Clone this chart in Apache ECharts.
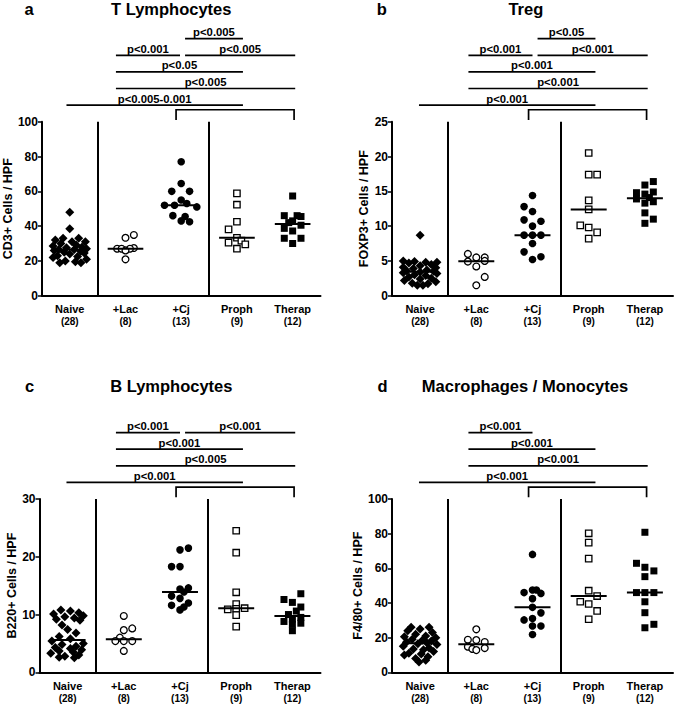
<!DOCTYPE html>
<html><head><meta charset="utf-8">
<script src="https://cdn.jsdelivr.net/npm/echarts@6/dist/echarts.min.js"></script>
<style>html,body{margin:0;padding:0;background:#fff}#c{width:675px;height:706px}</style>
</head><body><div id="c"></div>
<script>
// ---------- data ----------
const categories = ['Naive', '+Lac', '+Cj', 'Proph', 'Therap'];
const groupN = [28, 8, 13, 9, 12];
const panelLetters = ['a', 'b', 'c', 'd'];
const panelTitles = ['T Lymphocytes', 'Treg', 'B Lymphocytes', 'Macrophages / Monocytes'];
const yNames = ['CD3+ Cells / HPF', 'FOXP3+ Cells / HPF', 'B220+ Cells / HPF', 'F4/80+ Cells / HPF'];
const yMax = [100, 25, 30, 100];
const yStep = [20, 5, 10, 20];
const separatorsAfter = [1, 3]; // vertical dividers after Naive and after +Cj

// panel a: T lymphocytes (CD3+)
const tNaive = [48, 38.5, 33, 33, 32, 31, 31, 30, 29, 28.5, 28, 27.5, 27, 26.5, 26.5, 26, 25.5, 25, 24.5, 24, 23, 22.5, 22, 21, 20, 19.5, 19, 19];
const tLac = [34.9, 33.3, 27.4, 27, 27, 27, 26, 20.9];
const tCj = [77, 64.5, 60, 60, 55, 53, 52, 52, 51, 46, 45.5, 43, 42.5];
const tProph = [58.8, 52.3, 42.5, 38.1, 33.3, 31.6, 30.5, 29.5, 27];
const tTherap = [57.3, 46, 46, 45.5, 43, 42, 40.5, 38.7, 37.2, 33, 33, 30];
// panel b: Treg (FOXP3+)
const gNaive = [8.7, 5, 4.9, 4.8, 4.8, 4.7, 4.5, 4.3, 4.1, 4.0, 3.9, 3.7, 3.6, 3.5, 3.4, 3.3, 3.2, 3.0, 2.9, 2.7, 2.5, 2.4, 2.2, 2.0, 1.8, 1.7, 1.5, 1.5];
const gLac = [6.0, 5.5, 5.5, 5.0, 4.9, 4.2, 2.7, 1.5];
const gCj = [14.4, 12.8, 12.1, 10.9, 10.7, 10.0, 8.7, 8.7, 8.7, 7.5, 6.3, 5.6, 5.2];
const gProph = [20.5, 17.4, 17.4, 13.7, 12.4, 10.1, 9.8, 9.1, 8.2];
const gTherap = [16.4, 15.9, 14.9, 14.8, 14.6, 14.1, 13.9, 13.5, 13.3, 11.9, 11.0, 10.4];
// panel c: B lymphocytes (B220+)
const bNaive = [10.8, 10.6, 10.3, 10.1, 9.8, 9.6, 9.4, 9.2, 9.0, 8.2, 7.4, 6.8, 6.2, 5.8, 5.4, 5.0, 4.8, 4.5, 4.3, 4.1, 3.9, 3.7, 3.5, 3.3, 3.0, 2.8, 2.6, 2.5];
const bLac = [9.75, 7.6, 7.3, 6.0, 5.4, 5.4, 5.4, 3.7];
const bCj = [21.5, 21.2, 18.3, 18.3, 14.6, 14.4, 13.9, 13.2, 12.8, 12.0, 11.6, 11.3, 10.8];
const bProph = [24.5, 20.7, 13.85, 11.8, 11.1, 11.0, 10.9, 9.9, 7.9];
const bTherap = [13.6, 12.6, 12.1, 11.3, 10.6, 10.0, 9.5, 9.2, 8.8, 8.5, 8.3, 7.2];
// panel d: macrophages / monocytes (F4/80+)
const mNaive = [26, 26, 25, 24, 23, 22, 21, 20.5, 20, 19, 18.5, 18, 17.5, 17, 16.5, 16, 15, 14, 13.5, 13, 12, 11, 10.5, 10, 9, 8, 7, 6];
const mLac = [24.8, 18.8, 18.6, 17.5, 14.8, 14.0, 13.5, 12.8];
const mCj = [68, 47.5, 47.5, 46, 45.5, 42.5, 37.5, 34.3, 31, 30.2, 26.7, 26.7, 21.8];
const mProph = [80.2, 74.8, 65.6, 47.1, 44, 40.7, 39.4, 35.4, 30.6];
const mTherap = [80.8, 62.9, 60.6, 58.5, 55.2, 46, 46, 46, 40.7, 34.4, 27.7, 25.7];

// horizontal spread of the dots inside each column (in category units)
const jNaiveA = [0, 0, -0.12, 0.16, -0.26, 0.04, 0.28, -0.16, 0.12, -0.3, 0.22, -0.06, 0.3, -0.2, 0.08, -0.28, 0.2, -0.1, 0.26, 0, -0.22, 0.14, -0.3, 0.3, -0.08, 0.1, -0.18, 0.2];
const jNaiveB = [0, -0.3, -0.1, 0.1, 0.3, -0.2, 0.2, 0, -0.3, 0.28, -0.12, 0.12, -0.24, 0.24, 0, -0.3, 0.3, -0.1, 0.1, -0.2, 0.2, 0, -0.28, 0.28, -0.14, 0.14, -0.05, 0.05];
const jNaiveC = [-0.12, 0.05, 0.2, -0.25, 0.28, -0.05, 0.12, -0.2, 0.22, -0.1, 0, 0.15, -0.15, 0.05, -0.28, 0.28, -0.1, 0.15, -0.22, 0.05, 0.25, -0.15, 0.1, -0.3, 0.2, -0.05, -0.15, 0.12];
const jNaiveD = [-0.16, 0.16, 0, -0.22, 0.22, -0.08, 0.1, -0.28, 0.28, -0.14, 0.04, 0.2, -0.24, 0.12, -0.04, 0.3, -0.3, 0.16, -0.12, 0.06, 0.24, -0.2, 0.02, -0.28, 0.14, -0.08, 0.1, -0.02];
const jTLac = [0.15, 0, 0.15, -0.15, -0.07, 0.08, 0, 0];
const jTCj = [0, 0, -0.17, 0.15, 0, 0.1, -0.3, -0.12, 0.28, -0.15, 0.07, 0, 0.15];
const jTProph = [0, 0, 0, -0.15, 0, 0.08, -0.15, 0.15, 0];
const jTTherap = [0, -0.15, 0.08, 0.15, 0, -0.07, 0.15, -0.15, 0, -0.15, 0.15, 0];
const jGLac = [-0.15, 0, 0.15, 0.15, -0.15, 0, 0.15, 0];
const jGCj = [0, -0.15, 0, -0.15, 0.15, 0, -0.15, 0, 0.15, 0, -0.15, 0.15, 0];
const jGProph = [0, 0, 0.15, 0, 0, -0.15, 0, 0.15, 0];
const jGTherap = [0.15, 0, 0.15, -0.15, 0, 0.08, -0.15, 0.15, 0, 0, 0.15, 0];
const jBLac = [0, 0.15, 0, -0.07, -0.15, 0, 0.15, 0];
const jBCj = [0.15, 0, -0.15, 0, 0.15, 0, 0.07, -0.15, 0, 0.15, -0.15, 0.07, 0];
const jBProph = [0, 0, 0, 0, 0.15, 0, -0.15, 0, 0];
const jBTherap = [0.15, -0.15, 0, 0.15, 0.07, -0.07, 0.15, 0, -0.15, 0.15, 0, 0];
const jMLac = [0, -0.15, 0, 0.15, -0.15, 0.15, -0.07, 0];
const jMCj = [0, 0, 0.07, -0.15, 0.15, 0, 0, 0.15, 0, -0.15, 0, 0.15, 0];
const jMProph = [0, 0, 0, 0, 0.15, -0.15, 0, 0.15, 0];
const jMTherap = [0, -0.15, 0, 0.16, 0, -0.15, 0, 0.16, 0, 0, 0.16, 0];

// significance comparisons: [from group, to group, label, tier]
const sigA = [[3, 4, 'p<0.005', 5], [2, 3, 'p<0.001', 4], [3, 5, 'p<0.005', 4], [2, 4, 'p<0.05', 3], [2, 5, 'p<0.005', 2], [1, 4, 'p<0.005-0.001', 1]];
const sigB = [[3, 4, 'p<0.05', 5], [2, 3, 'p<0.001', 4], [3, 5, 'p<0.001', 4], [2, 4, 'p<0.001', 3], [2, 5, 'p<0.001', 2], [1, 4, 'p<0.001', 1]];
const sigC = [[2, 3, 'p<0.001', 4], [3, 5, 'p<0.001', 4], [2, 4, 'p<0.001', 3], [2, 5, 'p<0.005', 2], [1, 4, 'p<0.001', 1]];
const sigD = [[2, 3, 'p<0.001', 4], [2, 4, 'p<0.001', 3], [2, 5, 'p<0.001', 2], [1, 4, 'p<0.001', 1]];
const bracketGroups = [3, 5]; // +Cj ... Therap bracket

// ---------- layout / style ----------
const FONT = '"Liberation Sans", Arial, Helvetica, sans-serif';
const panels = [
  { vals: [tNaive, tLac, tCj, tProph, tTherap], jit: [jNaiveA, jTLac, jTCj, jTProph, jTTherap], sig: sigA },
  { vals: [gNaive, gLac, gCj, gProph, gTherap], jit: [jNaiveB, jGLac, jGCj, jGProph, jGTherap], sig: sigB },
  { vals: [bNaive, bLac, bCj, bProph, bTherap], jit: [jNaiveC, jBLac, jBCj, jBProph, jBTherap], sig: sigC },
  { vals: [mNaive, mLac, mCj, mProph, mTherap], jit: [jNaiveD, jMLac, jMCj, jMProph, jMTherap], sig: sigD }
];
const gridLeft = [39.5, 392, 39.5, 392];
const gridTop = [121.7, 121.7, 499, 499];
const gridH = [174, 174, 173.3, 173.3];
const gridW = 281;
const tierH = 16.6, tiers = 6;
const nameGaps = [25, 18, 20, 18];
const letterPos = [[29, 8.5], [381.7, 8.5], [29.7, 386], [382.5, 386]];
const titlePos = [[171.2, 8.5], [525.8, 8.5], [171.3, 386], [525, 386]];
const markers = [
  { symbol: 'diamond', size: 9, fill: '#000', bw: 0 },
  { symbol: 'circle', size: 6.8, fill: '#fff', bw: 1.3 },
  { symbol: 'circle', size: 7.6, fill: '#000', bw: 0 },
  { symbol: 'rect', size: 6.4, fill: '#fff', bw: 1.3 },
  { symbol: 'rect', size: 7, fill: '#000', bw: 0 }
];
const startPad = { 1: -0.02, 2: -0.14, 3: 0.09 };
const endPad = { 3: 0, 4: 0.12, 5: 0.05 };

function median(arr) {
  const s = arr.slice().sort((a, b) => a - b);
  const n = s.length;
  return n % 2 ? s[(n - 1) / 2] : (s[n / 2 - 1] + s[n / 2]) / 2;
}

const option = {
  animation: false,
  backgroundColor: '#fff',
  grid: [], xAxis: [], yAxis: [], series: [], graphic: []
};

panels.forEach((P, p) => {
  // grids
  option.grid.push({ left: gridLeft[p], top: gridTop[p], width: gridW, height: gridH[p], containLabel: false });
  option.grid.push({ left: gridLeft[p], top: gridTop[p] - tierH * tiers, width: gridW, height: tierH * tiers, containLabel: false });
  // axes
  option.xAxis.push({
    type: 'category', gridIndex: 2 * p, data: categories, boundaryGap: true, position: 'bottom',
    axisLine: { onZero: false, lineStyle: { color: '#000', width: 2 } },
    axisTick: { alignWithLabel: true, length: 4, lineStyle: { color: '#000', width: 1.5 } },
    axisLabel: {
      interval: 0, margin: 7, color: '#000',
      formatter: (v, i) => '{a|' + v + '}\n{b|(' + groupN[i] + ')}',
      rich: {
        a: { fontFamily: FONT, fontWeight: 'bold', fontSize: 11, lineHeight: 13, color: '#000' },
        b: { fontFamily: FONT, fontWeight: 'bold', fontSize: 10, lineHeight: 12, color: '#000' }
      }
    },
    splitLine: { show: false }
  });
  option.xAxis.push({ type: 'value', gridIndex: 2 * p, min: 0.5, max: 5.5, show: false });
  option.xAxis.push({ type: 'value', gridIndex: 2 * p + 1, min: 0.5, max: 5.5, show: false });
  option.yAxis.push({
    type: 'value', gridIndex: 2 * p, min: 0, max: yMax[p], interval: yStep[p],
    name: yNames[p], nameLocation: 'middle', nameGap: nameGaps[p],
    nameTextStyle: { fontFamily: FONT, fontWeight: 'bold', fontSize: 12.5, color: '#000' },
    axisLine: { show: true, onZero: false, lineStyle: { color: '#000', width: 2 } },
    axisTick: { show: true, length: 4, lineStyle: { color: '#000', width: 1.5 } },
    axisLabel: { margin: 4, fontFamily: FONT, fontWeight: 'bold', fontSize: 12, color: '#000' },
    splitLine: { show: false }
  });
  option.yAxis.push({ type: 'value', gridIndex: 2 * p + 1, min: 0, max: tiers, show: false });

  const xMain = 3 * p + 1, xSig = 3 * p + 2, yMain = 2 * p, ySig = 2 * p + 1;

  // dots
  P.vals.forEach((vals, g) => {
    const m = markers[g];
    const s = {
      type: 'scatter', xAxisIndex: xMain, yAxisIndex: yMain, silent: true, z: 3,
      symbol: m.symbol, symbolSize: m.size,
      itemStyle: { color: m.fill, borderColor: '#000', borderWidth: m.bw, opacity: 1 },
      data: vals.map((v, i) => [g + 1 + P.jit[g][i], v])
    };
    if (g === 0) {
      s.markLine = {
        silent: true, symbol: ['none', 'none'], label: { show: false },
        lineStyle: { color: '#000', width: 2, type: 'solid' },
        emphasis: { disabled: true },
        data: separatorsAfter.map(k => ({ xAxis: k + 0.5 }))
      };
    }
    option.series.push(s);
  });

  // medians
  option.series.push({
    type: 'custom', xAxisIndex: xMain, yAxisIndex: yMain, silent: true, z: 5,
    data: P.vals.map((vals, g) => [g + 1, median(vals)]),
    renderItem: (params, api) => {
      const a = api.coord([api.value(0) - 0.32, api.value(1)]);
      const b = api.coord([api.value(0) + 0.32, api.value(1)]);
      return { type: 'line', shape: { x1: a[0], y1: a[1], x2: b[0], y2: b[1] }, style: { stroke: '#000', lineWidth: 2 } };
    }
  });

  // significance bars
  const labels = P.sig.map(s => s[2]);
  option.series.push({
    type: 'custom', xAxisIndex: xSig, yAxisIndex: ySig, silent: true, z: 5,
    data: P.sig.map(s => [s[0] + startPad[s[0]], s[1] + endPad[s[1]], s[3]]),
    renderItem: (params, api) => {
      const a = api.coord([api.value(0), api.value(2)]);
      const b = api.coord([api.value(1), api.value(2)]);
      return {
        type: 'group', children: [
          { type: 'line', shape: { x1: a[0], y1: a[1], x2: b[0], y2: b[1] }, style: { stroke: '#000', lineWidth: 1.7 } },
          { type: 'text', x: (a[0] + b[0]) / 2, y: a[1] - 1,
            style: { text: labels[params.dataIndex], font: 'bold 11.3px ' + FONT, fill: '#000',
              align: 'center', verticalAlign: 'bottom', textAlign: 'center', textVerticalAlign: 'bottom' } }
        ]
      };
    }
  });

  // bracket
  option.series.push({
    type: 'custom', xAxisIndex: xSig, yAxisIndex: ySig, silent: true, z: 5,
    data: [[bracketGroups[0] - 0.07, bracketGroups[1] + 0.03]],
    renderItem: (params, api) => {
      const a0 = api.coord([api.value(0), 0.1]);
      const a1 = api.coord([api.value(0), 0.72]);
      const b1 = api.coord([api.value(1), 0.72]);
      const b0 = api.coord([api.value(1), 0.1]);
      return { type: 'polyline', shape: { points: [a0, a1, b1, b0] }, style: { stroke: '#000', lineWidth: 1.7, fill: null } };
    }
  });

  // titles
  option.graphic.push({ type: 'text', x: letterPos[p][0], y: letterPos[p][1], silent: true,
    style: { text: panelLetters[p], font: 'bold 16.5px ' + FONT, fill: '#000', align: 'center', verticalAlign: 'middle', textAlign: 'center', textVerticalAlign: 'middle' } });
  option.graphic.push({ type: 'text', x: titlePos[p][0], y: titlePos[p][1], silent: true,
    style: { text: panelTitles[p], font: 'bold 16.5px ' + FONT, fill: '#000', align: 'center', verticalAlign: 'middle', textAlign: 'center', textVerticalAlign: 'middle' } });
});

const chart = echarts.init(document.getElementById('c'), null, { renderer: 'svg', width: 675, height: 706 });
chart.setOption(option);
</script>
</body></html>
